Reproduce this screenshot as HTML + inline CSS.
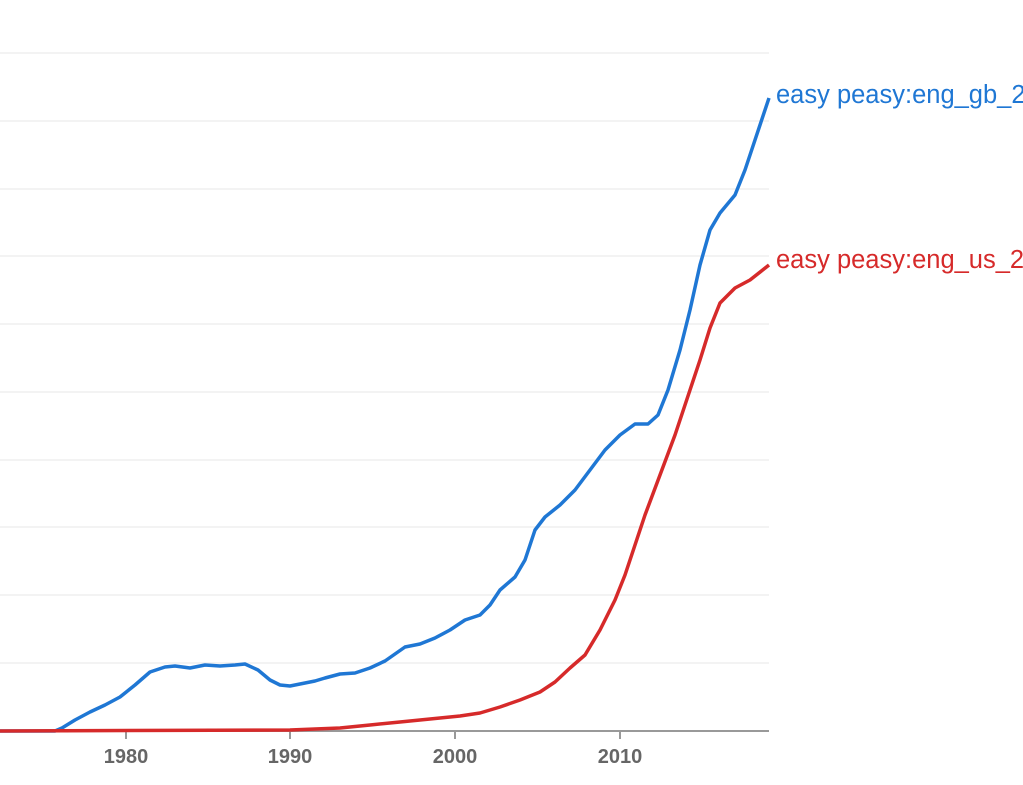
<!DOCTYPE html>
<html><head><meta charset="utf-8"><style>
html,body{margin:0;padding:0;background:#fff;width:1023px;height:785px;overflow:hidden}
text{font-family:"Liberation Sans",sans-serif}
</style></head><body>
<svg width="1023" height="785" viewBox="0 0 1023 785" xmlns="http://www.w3.org/2000/svg">
<g stroke="#efefef" stroke-width="1.5">
<line x1="0" y1="53" x2="769" y2="53"/><line x1="0" y1="121" x2="769" y2="121"/>
<line x1="0" y1="189" x2="769" y2="189"/><line x1="0" y1="256" x2="769" y2="256"/>
<line x1="0" y1="324" x2="769" y2="324"/><line x1="0" y1="392" x2="769" y2="392"/>
<line x1="0" y1="460" x2="769" y2="460"/><line x1="0" y1="527" x2="769" y2="527"/>
<line x1="0" y1="595" x2="769" y2="595"/><line x1="0" y1="663" x2="769" y2="663"/>
</g>
<line x1="0" y1="731" x2="769" y2="731" stroke="#999" stroke-width="2"/>
<g stroke="#999" stroke-width="2">
<line x1="126" y1="731" x2="126" y2="739"/><line x1="290" y1="731" x2="290" y2="739"/>
<line x1="455" y1="731" x2="455" y2="739"/><line x1="620" y1="731" x2="620" y2="739"/>
</g>
<g fill="#666" font-size="20" font-weight="bold" text-anchor="middle">
<text x="126" y="763">1980</text><text x="290" y="763">1990</text>
<text x="455" y="763">2000</text><text x="620" y="763">2010</text>
</g>
<polyline fill="none" stroke="#1f77d4" stroke-width="3.5" stroke-linejoin="round" points="0,731 55,731 62,728 75,720 90,712 105,705 120,697 135,685 150,672 165,667 175,666 190,668 205,665 220,666 235,665 245,664 258,670 270,680 280,685 290,686 300,684 315,681 325,678 340,674 355,673 370,668 385,661 395,654 405,647 420,644 435,638 450,630 465,620 480,615 490,605 500,590 515,577 525,560 535,530 545,517 560,505 575,490 590,470 605,450 620,435 635,424 648,424 658,415 668,390 680,350 690,310 700,265 710,230 720,213 735,195 745,170 755,140 769,98"/>
<polyline fill="none" stroke="#d62a2a" stroke-width="3.5" stroke-linejoin="round" points="0,731 290,730 340,728 370,725 400,722 430,719 460,716 480,713 500,707 520,700 540,692 555,682 570,668 585,655 600,630 615,600 625,575 635,545 645,515 660,475 675,435 690,390 700,360 710,328 720,303 735,288 750,280 769,265"/>
<text x="776" y="103" font-size="25.5" fill="#1f77d4">easy peasy:eng_gb_2019</text>
<text x="776" y="268" font-size="25.5" fill="#d62a2a">easy peasy:eng_us_2019</text>
</svg>
</body></html>
